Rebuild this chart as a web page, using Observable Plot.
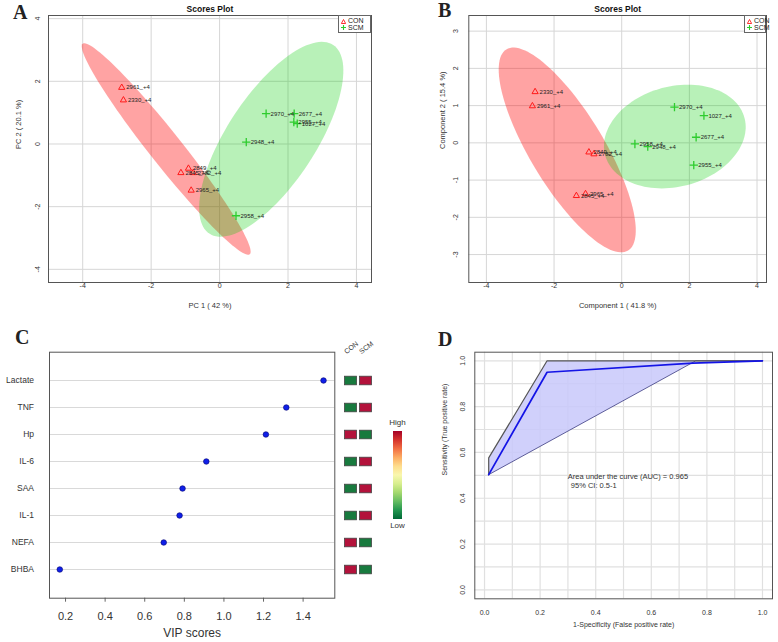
<!DOCTYPE html>
<html><head><meta charset="utf-8">
<script src="https://cdn.jsdelivr.net/npm/d3@7"></script>
<script src="https://cdn.jsdelivr.net/npm/@observablehq/plot@0.6"></script>
<style>
body{margin:0;background:#fff;width:778px;height:642px;overflow:hidden;position:relative;font-family:"Liberation Sans",Arial,sans-serif;color:#222}
.letter{position:absolute;font-family:"Liberation Serif","Times New Roman",serif;font-weight:bold;font-size:20px;line-height:20px}
.legend{position:absolute;border:1px solid #666;box-sizing:border-box;font-size:7px;line-height:6.6px;padding-top:2px;background:#fff;overflow:visible;white-space:nowrap}
.legend div{display:flex;align-items:center;height:6.6px}
.legend svg{margin:0 2px 0 2px;flex-shrink:0}
.cb-label{position:absolute;width:30px;text-align:center;font-size:8px;line-height:8px;color:#333}
</style></head><body>
<script>
const FONT = "Liberation Sans, Arial, Helvetica, sans-serif";

// ---------- Panel A: PCA scores ----------
const conIdsA = ["2961_+4","2330_+4","2849_+4","2845_+4","2782_+4","2965_+4"];
const conPC1  = [-2.86,-2.81,-0.91,-1.13,-0.77,-0.83];
const conPC2  = [1.80,1.40,-0.78,-0.92,-0.92,-1.48];
const scmIdsA = ["2970_+4","2677_+4","2955_+4","1027_+4","2948_+4","2958_+4"];
const scmPC1  = [1.36,2.18,2.17,2.27,0.78,0.48];
const scmPC2  = [0.97,0.97,0.70,0.65,0.06,-2.29];
// confidence ellipses: centre, major and minor semi-axis vectors (data units)
const ellA_center = [[-1.56,-0.16],[1.51,0.15]];
const ellA_major  = [[-2.44,3.36],[1.81,3.01]];
const ellA_minor  = [[0.37,0.32],[1.08,-0.78]];

// ---------- Panel B: PLS-DA scores ----------
const conIdsB = ["2330_+4","2961_+4","2849_+4","2782_+4","2845_+4","2965_+4"];
const conC1   = [-2.56,-2.64,-0.97,-0.82,-1.34,-1.07];
const conC2   = [1.37,0.99,-0.25,-0.30,-1.42,-1.37];
const scmIdsB = ["2970_+4","1027_+4","2677_+4","2958_+4","2948_+4","2955_+4"];
const scmC1   = [1.56,2.43,2.20,0.39,0.77,2.13];
const scmC2   = [0.96,0.73,0.15,-0.03,-0.10,-0.60];
const ellB_center = [[-1.61,-0.19],[1.57,0.17]];
const ellB_major  = [[-1.80,2.70],[2.06,0.50]];
const ellB_minor  = [[0.93,0.52],[0.38,-1.30]];

// ---------- Panel C: VIP scores ----------
const vipNames  = ["Lactate","TNF","Hp","IL-6","SAA","IL-1","NEFA","BHBA"];
const vipScores = [1.503,1.315,1.212,0.911,0.791,0.776,0.696,0.171];
const conLevel  = ["Low","Low","High","Low","Low","Low","High","High"];
const scmLevel  = ["High","High","Low","High","High","High","Low","Low"];
const vipTicks  = [0.2,0.4,0.6,0.8,1.0,1.2,1.4];

// ---------- Panel D: ROC ----------
const rocX   = [0.015,0.225,0.75,1.0];
const rocY   = [0.503,0.95,0.99,1.0];
const ciUpX  = [0.015,0.015,0.225,1.0];
const ciUpY  = [0.503,0.576,1.0,1.0];
const ciLoX  = [0.015,0.76,1.0];
const ciLoY  = [0.503,1.0,1.0];
const rocTicks = [0,0.2,0.4,0.6,0.8,1.0];
const rocGrid  = [0,0.1,0.2,0.3,0.4,0.5,0.6,0.7,0.8,0.9,1.0];

// ---------- helpers ----------
function ellipsePoints(c, a, b) {
  return d3.range(0, 361, 3).map(deg => {
    const t = deg * Math.PI / 180;
    return {x: c[0] + a[0]*Math.cos(t) + b[0]*Math.sin(t), y: c[1] + a[1]*Math.cos(t) + b[1]*Math.sin(t)};
  });
}
function place(el, left, top) {
  el.style.position = "absolute"; el.style.left = left + "px"; el.style.top = top + "px";
  document.body.appendChild(el);
}
const fmt = d => String(d).replace("\u2212","-");

function scoresPlot(o) {
  const con = o.conIds.map((id,i)=>({id, x:o.conX[i], y:o.conY[i]}));
  const scm = o.scmIds.map((id,i)=>({id, x:o.scmX[i], y:o.scmY[i]}));
  const eCon = ellipsePoints(o.center[0], o.major[0], o.minor[0]);
  const eScm = ellipsePoints(o.center[1], o.major[1], o.minor[1]);
  return Plot.plot({
    width:o.width, height:320, marginLeft:o.mL, marginRight:o.mR, marginTop:15, marginBottom:38,
    style:{fontFamily:FONT, fontSize:"7px", background:"transparent", color:"#333"},
    x:{domain:o.xDomain}, y:{domain:o.yDomain},
    marks:[
      Plot.gridX(o.xTicks, {stroke:"#d6d6d6", strokeOpacity:1}),
      Plot.gridY(o.yTicks, {stroke:"#d6d6d6", strokeOpacity:1}),
      Plot.line(eCon, {x:"x", y:"y", fill:"#ff0000", fillOpacity:0.36, stroke:"none", curve:"linear-closed"}),
      Plot.line(eScm, {x:"x", y:"y", fill:"#00cc00", fillOpacity:0.28, stroke:"none", curve:"linear-closed"}),
      Plot.dot(con, {x:"x", y:"y", symbol:"triangle", stroke:"#ff1a1a", r:2.3, strokeWidth:1}),
      Plot.dot(scm, {x:"x", y:"y", symbol:"plus", stroke:"#2ecc2e", r:2.8, strokeWidth:1.3}),
      Plot.text(con, {x:"x", y:"y", text:"id", dx:4.5, textAnchor:"start", fontSize:6, fill:"#222"}),
      Plot.text(scm, {x:"x", y:"y", text:"id", dx:4.5, textAnchor:"start", fontSize:6, fill:"#222"}),
      Plot.axisX(o.xTicks, {tickSize:0, tickPadding:1, tickFormat:fmt, label:null}),
      Plot.axisY(o.yTicks, {tickSize:0, tickPadding:o.yPad, tickRotate:-90, tickFormat:fmt, label:null}),
      Plot.text([o.xLabel], {text:d=>d, frameAnchor:"bottom", dy:25, fontSize:7.5}),
      Plot.text([o.yLabel], {text:d=>d, frameAnchor:"left", dx:o.yLabelDx, rotate:-90, fontSize:7.5}),
      Plot.text(["Scores Plot"], {text:d=>d, frameAnchor:"top", dy:-10, fontWeight:"bold", fontSize:8.5, fill:"#111"}),
      Plot.frame({stroke:"#555"})
    ]
  });
}

// Panel A
place(scoresPlot({
  conIds:conIdsA, conX:conPC1, conY:conPC2, scmIds:scmIdsA, scmX:scmPC1, scmY:scmPC2,
  center:ellA_center, major:ellA_major, minor:ellA_minor,
  width:390, mL:48, mR:19, xDomain:[-5.0,4.44], yDomain:[-4.42,4.1],
  xTicks:[-4,-2,0,2,4], yTicks:[-4,-2,0,2,4], yPad:8.8,
  xLabel:"PC 1 ( 42 %)", yLabel:"PC 2 ( 20.1 %)", yLabelDx:-30
}), 0, 0);

// Panel B
place(scoresPlot({
  conIds:conIdsB, conX:conC1, conY:conC2, scmIds:scmIdsB, scmX:scmC1, scmY:scmC2,
  center:ellB_center, major:ellB_major, minor:ellB_minor,
  width:388, mL:78.3, mR:12, xDomain:[-4.52,4.28], yDomain:[-3.75,3.42],
  xTicks:[-4,-2,0,2,4], yTicks:[-3,-2,-1,0,1,2,3], yPad:10.8,
  xLabel:"Component 1 ( 41.8 %)", yLabel:"Component 2 ( 15.4 %)", yLabelDx:-26.6
}), 390, 0);

// Panel C: VIP dot plot
const vip = vipNames.map((n,i)=>({name:n, score:vipScores[i]}));
place(Plot.plot({
  width:338, height:322, marginLeft:49, marginRight:3.7, marginTop:31.7, marginBottom:44.3,
  style:{fontFamily:FONT, fontSize:"8.5px", background:"transparent", color:"#333"},
  x:{domain:[0.119,1.56]},
  y:{type:"point", domain:vipNames, padding:1},
  marks:[
    Plot.gridY(vipNames, {stroke:"#d9d9d9", strokeOpacity:1, strokeWidth:1.2}),
    Plot.dot(vip, {x:"score", y:"name", fill:"#1020e8", stroke:"#000070", strokeWidth:0.6, r:2.8}),
    Plot.axisY(vipNames, {tickSize:0, tickPadding:15.5, label:null, fontSize:8.5}),
    Plot.axisX(vipTicks, {tickSize:4, tickPadding:10, tickFormat:d3.format(".1f"), label:null, fontSize:11, stroke:"#666"}),
    Plot.text(["VIP scores"], {text:d=>d, frameAnchor:"bottom", dy:39, fontSize:12, fill:"#333"}),
    Plot.frame({stroke:"#555"})
  ]
}), 0, 320);

// Panel C: group heat boxes
const heat = [];
vipNames.forEach((n,i)=>{ heat.push({name:n, group:"CON", level:conLevel[i]}); heat.push({name:n, group:"SCM", level:scmLevel[i]}); });
place(Plot.plot({
  width:32, height:322, marginLeft:1, marginRight:1, marginTop:31.7, marginBottom:44.3,
  style:{fontFamily:FONT, fontSize:"7px", background:"transparent", color:"#333", overflow:"visible"},
  x:{type:"band", domain:["CON","SCM"], padding:0, axis:null},
  y:{type:"band", domain:vipNames, paddingInner:0, paddingOuter:0.5, axis:null},
  color:{type:"ordinal", domain:["Low","High"], range:["#187a3e","#b3123b"]},
  marks:[
    Plot.cell(heat, {x:"group", y:"name", fill:"level", stroke:"#444", strokeWidth:0.8, insetLeft:1.5, insetRight:1.5, insetTop:9.2, insetBottom:9.2}),
    Plot.text(["CON","SCM"], {x:d=>d, text:d=>d, frameAnchor:"top", rotate:-38, textAnchor:"start", lineAnchor:"bottom", dx:-4.5, dy:2, fontSize:7, fill:"#333"})
  ]
}), 342, 320);

// Panel D: ROC
const roc = rocX.map((x,i)=>({x, y:rocY[i]}));
const ciUp = ciUpX.map((x,i)=>({x, y:ciUpY[i]}));
const ciLo = ciLoX.map((x,i)=>({x, y:ciLoY[i]}));
const ciPoly = ciUp.concat(ciLo.slice().reverse());
place(Plot.plot({
  width:388, height:322, marginLeft:84.3, marginRight:6, marginTop:31.7, marginBottom:43.7,
  style:{fontFamily:FONT, fontSize:"7px", background:"transparent", color:"#333"},
  x:{domain:[-0.035,1.036]}, y:{domain:[-0.039,1.0375]},
  marks:[
    Plot.gridX(rocGrid, {stroke:"#e0e0e0", strokeOpacity:1, strokeWidth:1.2}),
    Plot.gridY(rocGrid, {stroke:"#e0e0e0", strokeOpacity:1, strokeWidth:1.2}),
    Plot.line(ciPoly, {x:"x", y:"y", fill:"#c8c8fa", fillOpacity:0.85, stroke:"none", curve:"linear-closed"}),
    Plot.line(ciLo, {x:"x", y:"y", stroke:"#3a3a80", strokeWidth:0.8}),
    Plot.line(ciUp, {x:"x", y:"y", stroke:"#555", strokeWidth:1.2}),
    Plot.line(roc, {x:"x", y:"y", stroke:"#1414e6", strokeWidth:1.7}),
    Plot.text(["Area under the curve (AUC) = 0.965"], {text:d=>d, frameAnchor:"top-left", dx:93, dy:121.6, textAnchor:"start", fontSize:7.5, fill:"#333"}),
    Plot.text(["95% CI: 0.5-1"], {text:d=>d, frameAnchor:"top-left", dx:96, dy:130.6, textAnchor:"start", fontSize:7.5, fill:"#333"}),
    Plot.axisX(rocTicks, {tickSize:0, tickPadding:11, tickFormat:d3.format(".1f"), label:null}),
    Plot.axisY(rocTicks, {tickSize:0, tickPadding:10, tickRotate:-90, tickFormat:d3.format(".1f"), label:null}),
    Plot.text(["1-Specificity (False positive rate)"], {text:d=>d, frameAnchor:"bottom", dy:27.7, fontSize:7}),
    Plot.text(["Sensitivity (True positive rate)"], {text:d=>d, frameAnchor:"left", dx:-30.3, rotate:-90, fontSize:7}),
    Plot.frame({stroke:"#555"})
  ]
}), 390, 320);

// colour bar for heat boxes (High = red at top, Low = green at bottom)
const cb = document.createElement("div");
const stops = d3.quantize(t => d3.interpolateRdYlGn(t), 11).map((c,i)=>`${c} ${i*10}%`).join(",");
cb.style.cssText = `width:9px;height:88px;background:linear-gradient(to bottom, ${stops});`;
place(cb, 392.7, 430.5);
const hi = document.createElement("div"); hi.className = "cb-label"; hi.textContent = "High"; place(hi, 382.5, 419);
const lo = document.createElement("div"); lo.className = "cb-label"; lo.textContent = "Low"; place(lo, 382.5, 522);

// legends for A and B
function legend(left, top, width) {
  const d = document.createElement("div"); d.className = "legend";
  d.style.left = left + "px"; d.style.top = top + "px"; d.style.width = width + "px"; d.style.height = "18px";
  d.innerHTML =
    `<div><svg width="5" height="5" viewBox="0 0 10 10"><path d="M5 1 L9.3 9 L0.7 9 Z" fill="none" stroke="#ff1a1a" stroke-width="1.8"/></svg>CON</div>` +
    `<div><svg width="5" height="5" viewBox="0 0 10 10"><path d="M5 0 V10 M0 5 H10" stroke="#2ecc2e" stroke-width="2.2"/></svg>SCM</div>`;
  document.body.appendChild(d);
}
legend(338, 15, 33);
legend(744, 15, 22);

// panel letters
[["A",13,1.5],["B",438,0],["C",15,326.5],["D",438,328.5]].forEach(([t,l,tp])=>{
  const el = document.createElement("div"); el.className = "letter"; el.textContent = t;
  el.style.left = l + "px"; el.style.top = tp + "px"; document.body.appendChild(el);
});
</script>
</body></html>
